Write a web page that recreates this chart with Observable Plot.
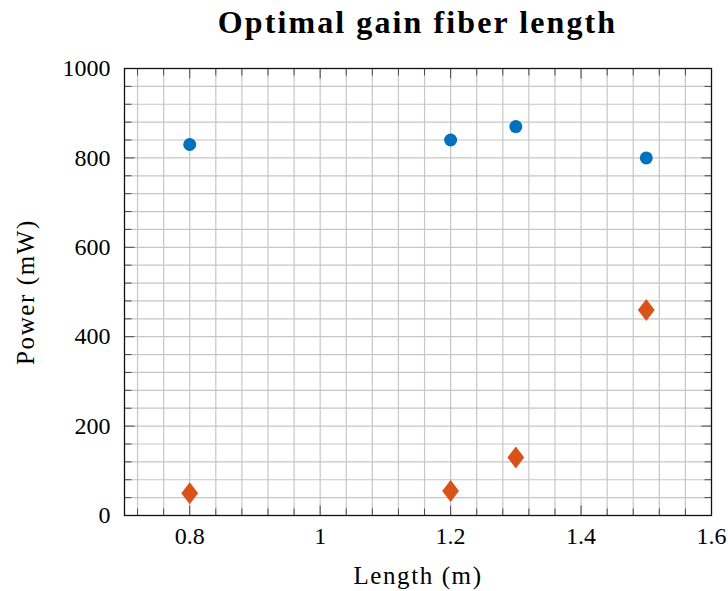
<!DOCTYPE html>
<html>
<head>
<meta charset="utf-8">
<script src="https://cdn.jsdelivr.net/npm/d3@7"></script>
<script src="https://cdn.jsdelivr.net/npm/@observablehq/plot@0.6"></script>
<style>
  html, body { margin: 0; padding: 0; background: #fff; }
  #wrap { width: 728px; height: 591px; position: relative; overflow: hidden; }
  #title { position: absolute; left: 124px; width: 587px; top: 0; height: 50px; line-height: 44px;
    text-align: center; font-family: 'Liberation Serif', serif; font-weight: bold; font-size: 32px;
    letter-spacing: 2.1px; color: #000; white-space: nowrap; }
  #chart { position: absolute; left: 0; top: 50px; }
  .axlabel { letter-spacing: 1.6px; }
</style>
</head>
<body>
<div id="wrap">
  <div id="title">Optimal gain fiber length</div>
  <div id="chart"></div>
</div>
<script>
// Data
const lengths = [0.8, 1.2, 1.3, 1.5];
const powerCircles = [830, 840, 870, 800];
const powerDiamonds = [50, 55, 130, 460];

// Tick labels / positions
const xTicks = [0.8, 1, 1.2, 1.4, 1.6];
const yTicks = [0, 200, 400, 600, 800, 1000];
const xMinor = [0.72, 0.76, 0.84, 0.88, 0.92, 0.96, 1.04, 1.08, 1.12, 1.16, 1.24, 1.28, 1.32, 1.36, 1.44, 1.48, 1.52, 1.56];
const yMinor = [40, 80, 120, 160, 240, 280, 320, 360, 440, 480, 520, 560, 640, 680, 720, 760, 840, 880, 920, 960];
const xGrid = [0.72, 0.76, 0.8, 0.84, 0.88, 0.92, 0.96, 1, 1.04, 1.08, 1.12, 1.16, 1.2, 1.24, 1.28, 1.32, 1.36, 1.4, 1.44, 1.48, 1.52, 1.56];
const yGrid = [40, 80, 120, 160, 200, 240, 280, 320, 360, 400, 440, 480, 520, 560, 600, 640, 680, 720, 760, 800, 840, 880, 920, 960];

const circles = lengths.map((x, i) => ({x, y: powerCircles[i]}));
const diamonds = lengths.map((x, i) => ({x, y: powerDiamonds[i]}));

// Custom symbols
const diamond = {draw(ctx) { ctx.moveTo(0, -11); ctx.lineTo(8.4, 0); ctx.lineTo(0, 11); ctx.lineTo(-8.4, 0); ctx.closePath(); }};
const seg = (dx, dy) => ({draw(ctx) { ctx.moveTo(0, 0); ctx.lineTo(dx, dy); }});
const MAJ = 10, MIN = 7;
const tickColor = "#4a4a4a";

const chart = Plot.plot({
  width: 728,
  height: 541,
  marginLeft: 124,
  marginRight: 17,
  marginTop: 18,
  marginBottom: 76,
  style: {fontFamily: "'Liberation Serif', serif", fontSize: "24px", color: "#000", background: "#fff"},
  x: {domain: [0.7, 1.6]},
  y: {domain: [0, 1000]},
  marks: [
    Plot.ruleX(xGrid, {stroke: "#c6c6c6", strokeWidth: 1.2}),
    Plot.ruleY(yGrid, {stroke: "#c6c6c6", strokeWidth: 1.2}),
    // bottom & top ticks
    Plot.dot(xTicks, {x: d => d, y: () => 0, symbol: seg(0, -MAJ), r: 5, fill: "none", stroke: tickColor, strokeWidth: 1}),
    Plot.dot(xMinor, {x: d => d, y: () => 0, symbol: seg(0, -MIN), r: 5, fill: "none", stroke: tickColor, strokeWidth: 1}),
    Plot.dot(xTicks, {x: d => d, y: () => 1000, symbol: seg(0, MAJ), r: 5, fill: "none", stroke: tickColor, strokeWidth: 1}),
    Plot.dot(xMinor, {x: d => d, y: () => 1000, symbol: seg(0, MIN), r: 5, fill: "none", stroke: tickColor, strokeWidth: 1}),
    // left & right ticks
    Plot.dot(yTicks, {y: d => d, x: () => 0.7, symbol: seg(MAJ, 0), r: 5, fill: "none", stroke: tickColor, strokeWidth: 1}),
    Plot.dot(yMinor, {y: d => d, x: () => 0.7, symbol: seg(MIN, 0), r: 5, fill: "none", stroke: tickColor, strokeWidth: 1}),
    Plot.dot(yTicks, {y: d => d, x: () => 1.6, symbol: seg(-MAJ, 0), r: 5, fill: "none", stroke: tickColor, strokeWidth: 1}),
    Plot.dot(yMinor, {y: d => d, x: () => 1.6, symbol: seg(-MIN, 0), r: 5, fill: "none", stroke: tickColor, strokeWidth: 1}),
    Plot.frame({stroke: "#111", strokeWidth: 1.3}),
    Plot.axisX(xTicks, {anchor: "bottom", tickSize: 0, tickPadding: 11, fontSize: 24, label: null, tickFormat: d => String(d)}),
    Plot.axisY(yTicks, {anchor: "left", tickSize: 0, tickPadding: 14, fontSize: 24, label: null, tickFormat: d => String(d)}),
    Plot.text(["Length (m)"], {frameAnchor: "bottom", dy: 68, lineAnchor: "bottom", textAnchor: "middle", fontSize: 25, className: "axlabel"}),
    Plot.text(["Power (mW)"], {frameAnchor: "left", dx: -91, rotate: -90, lineAnchor: "bottom", textAnchor: "middle", fontSize: 25, className: "axlabel"}),
    Plot.dot(circles, {x: "x", y: "y", r: 6.5, fill: "#0072BD", stroke: "none"}),
    Plot.dot(diamonds, {x: "x", y: "y", symbol: diamond, r: 6, fill: "#D95319", stroke: "none"})
  ]
});
document.getElementById("chart").appendChild(chart);
</script>
</body>
</html>
